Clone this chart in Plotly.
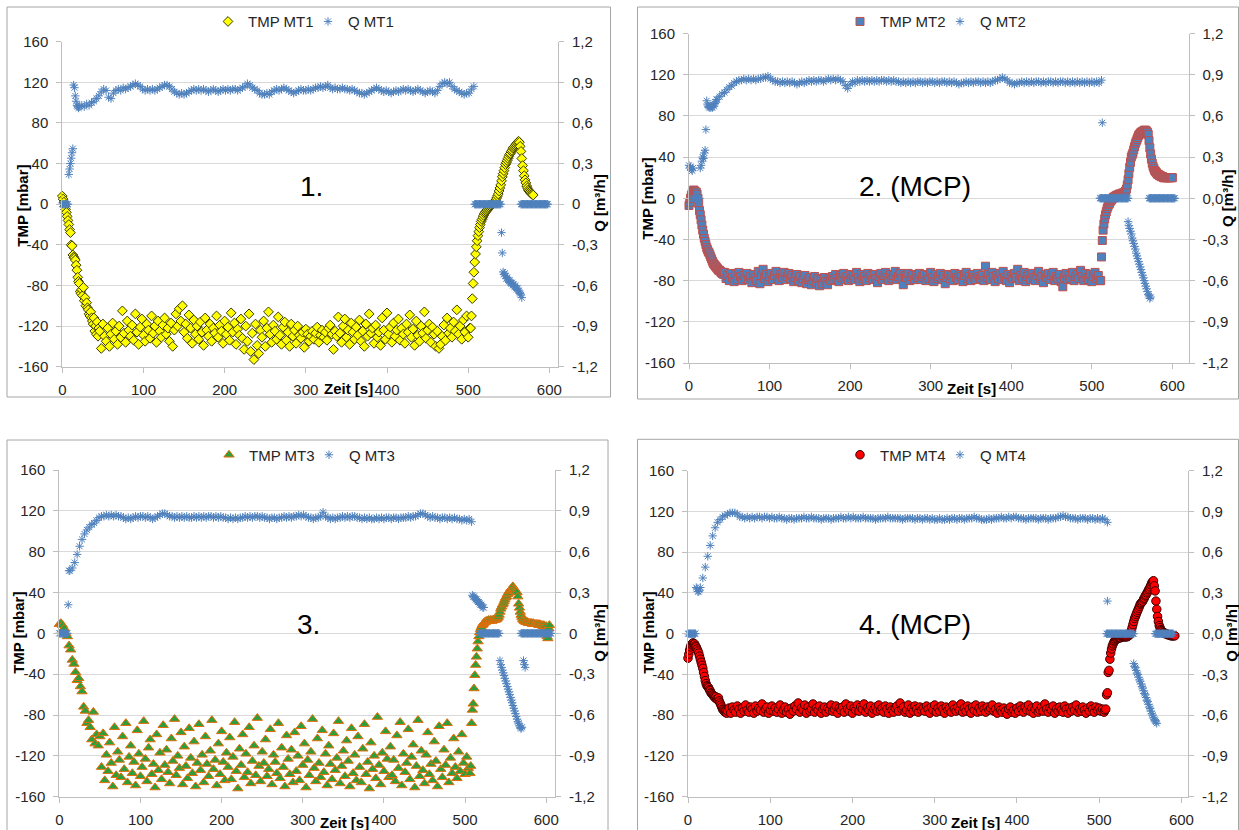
import plotly.graph_objects as go

# ---------------------------------------------------------------- DATA
# Each series is read off the picture as runs of samples: (start time [s], sampling step [s], values)

# ---- Panel 1 (MT1)
TMP1_START = [8, 5, 2, -2, -5, -8, -12, -16, -20, -25, -28, -40, -41, -50, -52, -53, -55, -60, -65, -72,
              -76, -78, -86, -88, -84, -90, -82, -95, -92, -100, -97, -102, -104, -108, -110, -106, -112,
              -115, -118, -112, -125, -120, -128, -116, -130, -122]
TMP1_MID = [
    -125, -142, -118, -130, -135, -122, -140, -128, -117, -133, -125, -138, -120, -131, -105, -127, -136, -115, -124, -130,
    -119, -134, -108, -126, -138, -121, -113, -129, -135, -118, -124, -132, -110, -127, -120, -136, -115, -125, -131, -119,
    -112, -128, -122, -135, -117, -140, -124, -108, -120, -103, -115, -100, -126, -118, -132, -109, -122, -137, -114, -128,
    -120, -133, -116, -126, -139, -112, -124, -130, -118, -135, -122, -127, -110, -131, -119, -125, -137, -115, -128, -121,
    -134, -107, -126, -117, -138, -123, -129, -113, -132, -143, -120, -135, -108, -145, -127, -153, -118, -139, -147, -124,
    -131, -115, -140, -122, -106, -128, -136, -119, -125, -133, -111, -129, -138, -121, -116, -134, -126, -140, -118, -130,
    -124, -137, -120, -129, -132, -126, -141, -123, -128, -135, -130, -125, -133, -127, -121, -136, -129, -124, -131, -126,
    -134, -122, -119, -128, -143, -125, -130, -111, -127, -136, -120, -113, -131, -124, -138, -117, -126, -133, -121, -129,
    -114, -135, -125, -140, -118, -130, -108, -127, -122, -137, -119, -131, -126, -139, -112, -124, -133, -107, -128, -121,
    -136, -117, -130, -124, -113, -134, -122, -128, -137, -118, -126, -109, -131, -123, -139, -115, -129, -135, -120, -127,
    -106, -132, -124, -118, -136, -121, -128, -140, -125, -142, -138, -130, -119, -134, -112, -127, -122, -131, -116, -125,
    -104, -128, -120, -133, -114, -126, -110, -131, -122]
TMP1_END = [-122, -110, -93, -78, -67, -57, -49, -42, -36, -31, -27, -23, -20, -17, -15, -13, -11, -9, -8, -7,
            -6, -5, -4, -3, -2, -1, 0, 1, 1, 2, 3, 4, 6, 8, 10, 13, 16, 19, 23, 27,
            30, 33, 36, 39, 41, 43, 45, 47, 49, 50, 52, 53, 55, 56, 57, 58, 59, 60, 61, 62,
            61, 57, 52, 45, 38, 33, 28, 24, 21, 18, 16, 14, 13, 12, 11, 10, 10, 9]
Q1_START = [0, 0, 0, 0, 0, 0, 0, 0, 0.22, 0.26, 0.30, 0.34, 0.38, 0.41, 0.88, 0.86, 0.80, 0.76, 0.73, 0.72, 0.71]
Q1_MID = [
    0.72, 0.73, 0.72, 0.74, 0.73, 0.75, 0.76, 0.78, 0.80, 0.83, 0.85, 0.84, 0.79, 0.78, 0.82, 0.84, 0.85, 0.84, 0.86, 0.85,
    0.86, 0.87, 0.88, 0.89, 0.88, 0.87, 0.85, 0.84, 0.85, 0.84, 0.85, 0.84, 0.85, 0.86, 0.87, 0.88, 0.88, 0.87, 0.85, 0.83,
    0.82, 0.81, 0.82, 0.81, 0.82, 0.83, 0.84, 0.85, 0.84, 0.85, 0.84, 0.85, 0.84, 0.83, 0.84, 0.85, 0.84, 0.83, 0.84, 0.85,
    0.84, 0.85, 0.84, 0.85, 0.85, 0.84, 0.85, 0.86, 0.87, 0.89, 0.88, 0.86, 0.85, 0.84, 0.82, 0.81, 0.81, 0.82, 0.81, 0.83,
    0.84, 0.85, 0.84, 0.85, 0.86, 0.85, 0.84, 0.83, 0.82, 0.83, 0.84, 0.85, 0.84, 0.84, 0.85, 0.84, 0.85, 0.86, 0.86, 0.87,
    0.86, 0.87, 0.88, 0.86, 0.85, 0.86, 0.85, 0.85, 0.86, 0.85, 0.85, 0.84, 0.85, 0.84, 0.83, 0.82, 0.82, 0.81, 0.82, 0.83,
    0.84, 0.85, 0.86, 0.85, 0.84, 0.83, 0.84, 0.83, 0.82, 0.83, 0.84, 0.83, 0.84, 0.85, 0.84, 0.85, 0.84, 0.83, 0.84, 0.85,
    0.84, 0.83, 0.82, 0.83, 0.84, 0.83, 0.82, 0.84, 0.87, 0.89, 0.90, 0.89, 0.90, 0.87, 0.85, 0.84, 0.83, 0.82, 0.81, 0.82,
    0.82, 0.85, 0.87]
Q1_FLUSH_A = [0, 0, 0, 0, 0, 0, 0, 0, 0, 0, 0, 0, 0, 0, 0, 0, 0, 0, 0, 0, 0, 0, 0, 0, 0, 0, 0, 0, 0, 0, 0, 0, 0]
Q1_BACK = [-0.21, -0.36, -0.50, -0.52, -0.51, -0.53, -0.55, -0.54, -0.56, -0.57, -0.56, -0.58, -0.59, -0.58, -0.60,
           -0.59, -0.61, -0.60, -0.62, -0.63, -0.62, -0.64, -0.65, -0.66, -0.67, -0.69]
Q1_FLUSH_B = [0, 0, 0, 0, 0, 0, 0, 0, 0, 0, 0, 0, 0, 0, 0, 0, 0, 0, 0, 0, 0, 0, 0, 0, 0, 0, 0, 0, 0, 0, 0, 0, 0, 0]

# ---- Panel 2 (MT2, MCP)
TMP2_START = [-7, -4, 0, 3, 5, 7, 8, 7, 6, 6, 4, 0, -5, -12, -16, -21, -26, -31, -35, -39, -42, -45, -48, -50,
              -52, -53, -55, -57, -59, -61, -63, -64, -65, -66, -67, -68, -69, -70, -70, -71, -72, -73, -72, -74]
TMP2_MID = [
    -72, -78, -75, -80, -73, -77, -81, -74, -79, -72, -76, -80, -75, -78, -73, -79, -76, -82, -74, -77,
    -80, -71, -83, -75, -69, -78, -74, -81, -76, -73, -79, -75, -71, -78, -80, -74, -77, -72, -79, -76,
    -73, -78, -75, -81, -77, -74, -80, -76, -82, -78, -75, -83, -79, -77, -84, -80, -76, -82, -78, -85,
    -79, -83, -77, -81, -84, -78, -80, -76, -79, -74, -78, -81, -75, -77, -73, -79, -76, -80, -74, -78,
    -75, -79, -72, -77, -81, -74, -78, -76, -80, -73, -77, -75, -79, -74, -78, -82, -76, -73, -79, -75,
    -72, -77, -80, -74, -78, -75, -71, -79, -76, -73, -78, -84, -75, -77, -73, -80, -76, -74, -79, -75,
    -77, -73, -79, -76, -74, -80, -75, -78, -72, -77, -81, -74, -78, -76, -73, -79, -75, -83, -77, -74,
    -78, -75, -80, -73, -77, -79, -74, -76, -81, -75, -72, -78, -76, -80, -74, -77, -79, -73, -76, -78,
    -75, -80, -66, -77, -74, -79, -72, -76, -81, -75, -78, -73, -79, -71, -77, -80, -74, -82, -76, -78,
    -73, -77, -69, -80, -75, -78, -72, -81, -76, -74, -79, -73, -77, -80, -75, -71, -78, -76, -82, -74,
    -77, -73, -79, -75, -72, -80, -76, -78, -74, -81, -86, -77, -73, -79, -75, -78, -72, -80, -76, -74,
    -78, -70, -76, -80, -73, -77, -79, -74, -81, -76, -72, -78, -75, -80]
TMP2_END = [-80, -57, -41, -31, -25, -20, -16, -13, -10, -8, -6, -5, -3, -2, -1, 0, 1, 1, 2, 2,
            3, 3, 3, 4, 4, 4, 4, 5, 5, 5, 6, 7, 9, 13, 18, 24, 30, 35, 40, 42,
            44, 47, 50, 53, 55, 57, 59, 61, 62, 63, 64, 64, 65, 65, 66, 66, 66, 65, 64, 62,
            56, 49, 43, 38, 34, 31, 29, 27, 26, 25, 24, 23, 23, 22, 22, 21, 21, 21, 20, 20,
            20, 20, 20, 20, 20, 20, 20, 20, 20, 20]
Q2_START = [0.24, 0.22, 0.23, 0.21, 0.20, 0.22, 0, 0, 0, 0, 0, 0, 0, 0, 0.22, 0.24, 0.27, 0.30, 0.29, 0.33, 0.35,
            0.50, 0.71, 0.68, 0.67, 0.66, 0.67, 0.66, 0.67, 0.66, 0.68, 0.67, 0.69, 0.70, 0.72]
Q2_MID = [
    0.72, 0.74, 0.76, 0.77, 0.79, 0.81, 0.82, 0.84, 0.85, 0.86, 0.86, 0.87, 0.86, 0.87, 0.86, 0.87, 0.86, 0.87, 0.87, 0.88,
    0.88, 0.89, 0.87, 0.86, 0.85, 0.85, 0.84, 0.85, 0.84, 0.85, 0.84, 0.85, 0.84, 0.83, 0.84, 0.85, 0.84, 0.85, 0.86, 0.85,
    0.86, 0.85, 0.86, 0.86, 0.85, 0.86, 0.87, 0.86, 0.87, 0.86, 0.87, 0.86, 0.85, 0.82, 0.80, 0.83, 0.85, 0.84, 0.86, 0.85,
    0.86, 0.85, 0.86, 0.85, 0.86, 0.85, 0.86, 0.85, 0.86, 0.86, 0.85, 0.86, 0.85, 0.86, 0.85, 0.85, 0.84, 0.85, 0.84, 0.85,
    0.84, 0.85, 0.84, 0.85, 0.85, 0.84, 0.85, 0.84, 0.85, 0.85, 0.84, 0.85, 0.84, 0.85, 0.85, 0.84, 0.85, 0.84, 0.85, 0.84,
    0.83, 0.84, 0.84, 0.85, 0.84, 0.85, 0.84, 0.85, 0.85, 0.84, 0.85, 0.84, 0.85, 0.84, 0.85, 0.86, 0.86, 0.87, 0.88, 0.87,
    0.86, 0.84, 0.84, 0.83, 0.84, 0.84, 0.85, 0.84, 0.85, 0.84, 0.85, 0.84, 0.85, 0.85, 0.84, 0.85, 0.84, 0.85, 0.85, 0.84,
    0.85, 0.84, 0.85, 0.85, 0.84, 0.85, 0.84, 0.85, 0.84, 0.85, 0.84, 0.85, 0.84, 0.85, 0.84, 0.85, 0.84, 0.85, 0.84, 0.86]
Q2_SPIKE = [0.55]
Q2_FLUSH_A = [0, 0, 0, 0, 0, 0, 0, 0, 0, 0, 0, 0, 0, 0, 0, 0, 0, 0, 0, 0, 0, 0, 0, 0, 0, 0, 0, 0, 0, 0, 0, 0, 0, 0, 0, 0]
Q2_BACK = [-0.17, -0.20, -0.22, -0.24, -0.26, -0.29, -0.31, -0.33, -0.35, -0.37, -0.40, -0.42, -0.44, -0.46, -0.48,
           -0.50, -0.52, -0.54, -0.56, -0.58, -0.60, -0.62, -0.64, -0.66, -0.68, -0.70, -0.71, -0.73, -0.72]
Q2_FLUSH_B = [0, 0, 0, 0, 0, 0, 0, 0, 0, 0, 0, 0, 0, 0, 0, 0, 0, 0, 0, 0, 0, 0, 0, 0, 0, 0, 0, 0, 0, 0, 0, 0, 0]

# ---- Panel 3 (MT3)
TMP3_START = [9, 10, 8, 5, 0, -3, -12, -16, -26, -30, -38, -46, -44, -52, -57, -72, -76, -88, -85, -92,
              -104, -77, -108, -99, -110, -101]
TMP3_MID = [
    -131, -98, -144, -119, -135, -107, -127, -150, -92, -139, -116, -124, -141, -101, -133, -88, -146, -121, -110, -137,
    -126, -149, -95, -118, -140, -131, -86, -123, -145, -112, -104, -138, -128, -151, -99, -134, -117, -143, -90, -129,
    -114, -136, -147, -103, -125, -84, -139, -120, -132, -97, -148, -111, -130, -142, -93, -122, -137, -106, -150, -127,
    -89, -134, -119, -146, -101, -128, -140, -115, -85, -133, -124, -149, -108, -138, -96, -126, -144, -117, -131, -102,
    -143, -121, -87, -135, -152, -113, -129, -99, -141, -118, -136, -92, -147, -125, -110, -139, -83, -130, -145, -116,
    -127, -104, -140, -133, -94, -148, -119, -126, -137, -88, -142, -112, -131, -150, -100, -123, -138, -114, -146, -97,
    -135, -120, -144, -91, -129, -108, -151, -124, -139, -116, -84, -132, -145, -103, -127, -141, -95, -136, -118, -149,
    -110, -128, -143, -98, -134, -122, -86, -147, -130, -115, -140, -105, -125, -150, -93, -137, -119, -144, -101, -131,
    -146, -113, -89, -138, -126, -152, -107, -133, -120, -142, -82, -129, -148, -117, -135, -96, -123, -141, -111, -139,
    -124, -145, -100, -132, -87, -149, -118, -136, -127, -94, -143, -121, -109, -151, -130, -85, -140, -115, -134, -147,
    -119, -97, -138, -128, -144, -106, -125, -150, -91, -133, -141, -114, -129, -88, -146, -122, -137, -103, -131, -142,
    -116, -135, -99, -127, -138, -121, -132, -137]
TMP3_END = [-130, -88, -75, -69, -54, -41, -31, -23, -15, -8, -3, 1, 4, 6, 8, 9, 10, 11, 11, 12,
            12, 12, 13, 12, 13, 13, 12, 13, 13, 14, 13, 14, 14, 15, 16, 18, 21, 24, 26, 28,
            29, 31, 33, 35, 36, 38, 39, 41, 42, 43, 44, 45, 46, 44, 43, 42, 41, 40, 36, 29,
            25, 21, 18, 16, 14, 13, 12, 12, 11, 11, 11, 10, 10, 10, 10, 10, 9, 10, 9, 9,
            9, 9, 9, 9, 8, 9, 8, 8, 8, 7, 8, 7, 6, 7, -3, -5, 5, 8]
Q3_START = [0, 0, 0, 0, 0, 0, 0, 0, 0, 0, 0, 0.21, 0.46]
Q3_MID = [
    0.46, 0.48, 0.52, 0.58, 0.64, 0.69, 0.73, 0.76, 0.78, 0.80, 0.81, 0.83, 0.85, 0.86, 0.86, 0.87, 0.86, 0.87, 0.86, 0.87,
    0.86, 0.86, 0.85, 0.84, 0.85, 0.84, 0.85, 0.86, 0.85, 0.86, 0.86, 0.85, 0.86, 0.85, 0.84, 0.85, 0.86, 0.87, 0.88, 0.88,
    0.87, 0.86, 0.86, 0.85, 0.86, 0.85, 0.86, 0.85, 0.86, 0.85, 0.85, 0.86, 0.85, 0.86, 0.85, 0.86, 0.85, 0.86, 0.86, 0.85,
    0.86, 0.85, 0.86, 0.85, 0.85, 0.84, 0.85, 0.84, 0.85, 0.84, 0.85, 0.85, 0.86, 0.85, 0.86, 0.85, 0.86, 0.86, 0.85, 0.86,
    0.85, 0.85, 0.84, 0.85, 0.85, 0.84, 0.85, 0.85, 0.86, 0.85, 0.86, 0.85, 0.86, 0.86, 0.87, 0.86, 0.87, 0.86, 0.85, 0.85,
    0.84, 0.85, 0.85, 0.86, 0.89, 0.86, 0.85, 0.84, 0.85, 0.84, 0.85, 0.85, 0.86, 0.85, 0.86, 0.85, 0.86, 0.86, 0.85, 0.85,
    0.84, 0.85, 0.84, 0.85, 0.84, 0.84, 0.85, 0.84, 0.85, 0.84, 0.85, 0.85, 0.84, 0.85, 0.85, 0.84, 0.85, 0.85, 0.85, 0.86,
    0.85, 0.86, 0.86, 0.87, 0.88, 0.88, 0.87, 0.86, 0.85, 0.86, 0.85, 0.85, 0.84, 0.85, 0.85, 0.84, 0.85, 0.84, 0.85, 0.84,
    0.84, 0.83, 0.84, 0.83, 0.84, 0.82]
Q3_DECAY = [0.28, 0.27, 0.27, 0.26, 0.25, 0.25, 0.24, 0.23, 0.23, 0.22, 0.21, 0.21, 0.20, 0.19, 0.19]
Q3_FLUSH_A = [0, 0, 0, 0, 0, 0, 0, 0, 0, 0, 0, 0, 0, 0, 0, 0, 0, 0, 0, 0, 0, 0, 0, 0, 0]
Q3_BACK = [-0.20, -0.23, -0.25, -0.27, -0.29, -0.31, -0.33, -0.35, -0.37, -0.39, -0.41, -0.43, -0.45, -0.47,
           -0.49, -0.51, -0.53, -0.55, -0.57, -0.59, -0.61, -0.63, -0.65, -0.66, -0.68, -0.69, -0.70, -0.69]
Q3_BACK2 = [-0.20, -0.23, -0.25]
Q3_FLUSH_B = [0, 0, 0, 0, 0, 0, 0, 0, 0, 0, 0, 0, 0, 0, 0, 0, 0, 0, 0, 0, 0, 0, 0, 0, 0, 0, 0, 0, 0, 0, 0, 0, 0, 0, 0, 0, 0, 0]

# ---- Panel 4 (MT4, MCP)
TMP4_START = [-24, -20, -16, -13, -11, -10, -9, -10, -10, -12, -13, -15, -17, -19, -22, -25, -28, -31, -34, -38,
              -42, -46, -49, -51, -52, -53, -55, -56, -58, -59, -60, -61, -62, -63, -62, -64, -65, -63, -66, -68,
              -70, -72, -74, -75, -76, -77, -76, -78]
TMP4_MID = [
    -76, -73, -78, -72, -75, -77, -71, -74, -78, -73, -76, -70, -75, -77, -72, -74, -78, -71, -76, -73,
    -75, -69, -77, -74, -72, -78, -75, -71, -76, -73, -77, -74, -70, -78, -75, -72, -77, -74, -79, -73,
    -76, -71, -74, -68, -77, -73, -75, -70, -78, -72, -76, -74, -69, -77, -73, -75, -71, -78, -74, -72,
    -77, -73, -75, -70, -76, -74, -71, -78, -73, -75, -72, -77, -69, -74, -76, -71, -78, -73, -75, -70,
    -76, -72, -74, -69, -77, -73, -75, -71, -78, -74, -72, -76, -70, -75, -73, -77, -71, -74, -78, -72,
    -75, -77, -73, -71, -76, -68, -74, -72, -77, -75, -70, -78, -73, -76, -71, -74, -77, -72, -75, -73,
    -76, -71, -74, -78, -72, -75, -70, -77, -73, -76, -71, -74, -78, -72, -75, -73, -77, -70, -74, -76,
    -72, -75, -69, -77, -73, -76, -71, -74, -78, -72, -75, -70, -77, -73, -76, -71, -74, -77, -72, -75,
    -73, -70, -76, -74, -78, -72, -75, -77, -73, -76, -79, -74, -72, -77, -75, -78, -73, -76, -71, -74,
    -77, -72, -75, -70, -76, -73, -78, -74, -71, -77, -75, -72, -76, -69, -74, -77, -73, -75, -71, -78,
    -74, -76, -72, -75, -77, -71, -74, -78, -73, -76, -72, -75, -70, -77, -74, -76, -72, -75, -78, -73,
    -76, -71, -74, -77, -72, -75, -73, -76, -74, -77]
TMP4_END = [-75, -74, -60, -58, -38, -36, -25, -19, -15, -12, -10, -8, -7, -6, -5, -5, -4, -4, -4, -4,
            -3, -3, -3, -3, -3, -3, -3, -3, -2, -2, -1, 0, 3, 6, 9, 12, 15, 17, 19, 21,
            23, 25, 27, 29, 30, 31, 32, 34, 35, 37, 38, 40, 41, 43, 44, 46, 48, 50, 51, 52,
            47, 42, 32, 24, 17, 12, 8, 6, 4, 3, 2, 1, 1, 0, 0, 0, -1, -1, -1, -1,
            -2, -2, -2, -2, -2, -2]
Q4_START = [0, 0, 0, 0, 0, 0, 0, 0, 0, 0, 0.34, 0.33, 0.31, 0.31, 0.32]
Q4_MID = [
    0.34, 0.41, 0.49, 0.57, 0.65, 0.72, 0.78, 0.82, 0.84, 0.86, 0.87, 0.88, 0.89, 0.89, 0.89, 0.88, 0.86, 0.86, 0.85, 0.86,
    0.85, 0.86, 0.85, 0.86, 0.86, 0.85, 0.86, 0.86, 0.85, 0.86, 0.85, 0.85, 0.86, 0.85, 0.85, 0.84, 0.85, 0.85, 0.84, 0.85,
    0.85, 0.85, 0.86, 0.85, 0.85, 0.86, 0.85, 0.85, 0.85, 0.84, 0.85, 0.85, 0.85, 0.84, 0.85, 0.85, 0.85, 0.86, 0.85, 0.85,
    0.86, 0.85, 0.86, 0.85, 0.85, 0.85, 0.86, 0.85, 0.85, 0.85, 0.85, 0.84, 0.85, 0.85, 0.85, 0.85, 0.86, 0.85, 0.85, 0.85,
    0.85, 0.85, 0.84, 0.85, 0.85, 0.85, 0.85, 0.84, 0.85, 0.85, 0.84, 0.85, 0.85, 0.84, 0.85, 0.84, 0.84, 0.85, 0.84, 0.84,
    0.85, 0.84, 0.85, 0.85, 0.84, 0.85, 0.85, 0.84, 0.85, 0.85, 0.85, 0.86, 0.85, 0.85, 0.84, 0.84, 0.84, 0.85, 0.84, 0.85,
    0.85, 0.85, 0.86, 0.85, 0.85, 0.86, 0.85, 0.86, 0.86, 0.85, 0.85, 0.85, 0.84, 0.85, 0.85, 0.85, 0.85, 0.84, 0.85, 0.85,
    0.85, 0.84, 0.85, 0.85, 0.85, 0.86, 0.86, 0.87, 0.86, 0.86, 0.85, 0.85, 0.85, 0.84, 0.85, 0.85, 0.85, 0.84, 0.85, 0.85,
    0.84, 0.85, 0.84, 0.85, 0.84, 0.82]
Q4_SPIKE = [0.24]
Q4_FLUSH_A = [0, 0, 0, 0, 0, 0, 0, 0, 0, 0, 0, 0, 0, 0, 0, 0, 0, 0, 0, 0, 0, 0, 0, 0, 0, 0, 0, 0, 0, 0, 0, 0, 0, 0]
Q4_BACK = [-0.22, -0.24, -0.25, -0.27, -0.29, -0.30, -0.32, -0.34, -0.35, -0.37, -0.39, -0.40, -0.42, -0.44, -0.45,
           -0.47, -0.49, -0.50, -0.52, -0.54, -0.55, -0.57, -0.59, -0.60, -0.62, -0.63, -0.64, -0.65, -0.66]
Q4_FLUSH_B = [0, 0, 0, 0, 0, 0, 0, 0, 0, 0, 0, 0, 0, 0, 0, 0, 0, 0, 0, 0, 0, 0, 0]

# runs: (start time, step, values)
TMP_RUNS = [
    [(0, 1, TMP1_START), (46, 2, TMP1_MID), (503, 1, TMP1_END)],
    [(0, 1, TMP2_START), (44, 2, TMP2_MID), (511, 1, TMP2_END)],
    [(0, 2, TMP3_START), (52, 2, TMP3_MID), (507, 1, TMP3_END)],
    [(0, 1, TMP4_START), (48, 2, TMP4_MID), (507, 1, TMP4_END)],
]
Q_RUNS = [
    [(0, 1, Q1_START), (21, 3, Q1_MID), (508, 1, Q1_FLUSH_A), (541, 1, Q1_BACK), (565, 1, Q1_FLUSH_B)],
    [(0, 1, Q2_START), (35, 3, Q2_MID), (513, 1, Q2_SPIKE), (510, 1, Q2_FLUSH_A), (545, 1, Q2_BACK), (571, 1, Q2_FLUSH_B)],
    [(0, 1, Q3_START), (13, 3, Q3_MID), (509, 1, Q3_DECAY), (518, 1, Q3_FLUSH_A), (543, 1, Q3_BACK),
     (572, 1, Q3_BACK2), (569, 1, Q3_FLUSH_B)],
    [(0, 1, Q4_START), (15, 3, Q4_MID), (510, 1, Q4_SPIKE), (509, 1, Q4_FLUSH_A), (542, 1, Q4_BACK), (568, 1, Q4_FLUSH_B)],
]
TMP_NAMES = ["TMP MT1", "TMP MT2", "TMP MT3", "TMP MT4"]
Q_NAMES = ["Q MT1", "Q MT2", "Q MT3", "Q MT4"]
PANEL_LABELS = ["1.", "2. (MCP)", "3.", "4. (MCP)"]
X_TICKS = [0, 100, 200, 300, 400, 500, 600]
TMP_TICKS = [-160, -120, -80, -40, 0, 40, 80, 120, 160]
Q_TICKS = [-1.2, -0.9, -0.6, -0.3, 0.0, 0.3, 0.6, 0.9, 1.2]
Q_TEXT_A = ["-1,2", "-0,9", "-0,6", "-0,3", "0", "0,3", "0,6", "0,9", "1,2"]
Q_TEXT_B = ["-1,2", "-0,9", "-0,6", "-0,3", "0,0", "0,3", "0,6", "0,9", "1,2"]

# ---------------------------------------------------------------- LAYOUT (pixels)
W, H = 1239, 830
FONT = "Liberation Sans, Arial, sans-serif"
TXT = "#262626"
AX = "#bfbfbf"

PANELS = [
    dict(x0=62.3, x1=558, y0=41.7, y1=366.7, xmax=610.6, box=(7, 7, 610.5, 397),
         leg=(308, 21.7), lab=(311, 187), ttl=(21.7, 206), qttl=(598.8, 203), zeit=(348, 389), qtext=Q_TEXT_A),
    dict(x0=689, x1=1188.5, y0=33.5, y1=363, xmax=620, box=(637.5, 7, 1238.5, 399),
         leg=(940, 21.7), lab=(915, 187), ttl=(647.7, 199), qttl=(1227, 198), zeit=(971, 389), qtext=Q_TEXT_B),
    dict(x0=59.3, x1=555, y0=470, y1=796.7, xmax=610.8, box=(7, 440, 608, 845),
         leg=(309, 455), lab=(308, 624), ttl=(17.8, 633), qttl=(598.8, 633), zeit=(344, 822), qtext=Q_TEXT_A),
    dict(x0=688, x1=1188, y0=470.7, y1=796.7, xmax=608, box=(637.5, 439.3, 1238.5, 845),
         leg=(940, 455), lab=(915, 624), ttl=(647.7, 633), qttl=(1230.7, 633), zeit=(975, 822), qtext=Q_TEXT_B),
]

TMP_STYLES = [
    dict(symbol="diamond", size=7.5, color="#ffff00", line=dict(color="#3a3a00", width=1)),
    dict(symbol="square", size=8, color="#4f81bd", line=dict(color="#c0504d", width=1)),
    dict(symbol="triangle-up", size=9, color="#2e9e3a", line=dict(color="#e46c0a", width=1)),
    dict(symbol="circle", size=8.5, color="#ff0000", line=dict(color="#3a0000", width=1)),
]
Q_STYLE = dict(symbol="asterisk-open", size=7, color="#4f81bd", line=dict(color="#4f81bd", width=1))


def fx(p):
    return p / W


def fy(p):
    return 1 - p / H


def expand(runs):
    xs, ys = [], []
    for t0, dt, vals in runs:
        for i, v in enumerate(vals):
            xs.append(t0 + dt * i)
            ys.append(v)
    return xs, ys


fig = go.Figure()
layout = dict(width=W, height=H, margin=dict(l=0, r=0, t=0, b=0, autoexpand=False), autosize=False,
              paper_bgcolor="white", plot_bgcolor="white", font=dict(family=FONT, color=TXT),
              showlegend=True, annotations=[], shapes=[])

for k, P in enumerate(PANELS):
    n = k + 1
    xname = "x" if n == 1 else f"x{n}"
    yl = "y" if n == 1 else f"y{2 * n - 1}"
    yr = f"y{2 * n}"
    leg = "legend" if n == 1 else f"legend{n}"

    tx, ty = expand(TMP_RUNS[k])
    qx, qy = expand(Q_RUNS[k])
    fig.add_trace(go.Scatter(x=tx, y=ty, mode="markers", name=TMP_NAMES[k], marker=TMP_STYLES[k],
                             xaxis=xname, yaxis=yl, legend=leg, cliponaxis=False))
    fig.add_trace(go.Scatter(x=qx, y=qy, mode="markers", name=Q_NAMES[k], marker=Q_STYLE,
                             xaxis=xname, yaxis=yr, legend=leg, cliponaxis=False))

    tick_font = dict(family=FONT, size=15, color=TXT)
    layout["xaxis" if n == 1 else f"xaxis{n}"] = dict(
        domain=[fx(P["x0"]), fx(P["x1"])], range=[0, P["xmax"]], anchor=yl,
        tickvals=X_TICKS, ticktext=[str(v) for v in X_TICKS], ticks="outside", ticklen=5, tickcolor=AX,
        showline=True, linecolor=AX, linewidth=1, showgrid=False, zeroline=False,
        tickfont=tick_font, ticklabelstandoff=4, fixedrange=True)
    layout["yaxis" if n == 1 else f"yaxis{2 * n - 1}"] = dict(
        domain=[fy(P["y1"]), fy(P["y0"])], range=[-160, 160], anchor=xname,
        tickvals=TMP_TICKS, ticktext=[str(v) for v in TMP_TICKS], ticks="outside", ticklen=5, tickcolor=AX,
        showline=True, linecolor=AX, linewidth=1, showgrid=True, gridcolor="#d9d9d9", gridwidth=1,
        zeroline=False, tickfont=tick_font, ticklabelstandoff=5, fixedrange=True)
    layout[f"yaxis{2 * n}"] = dict(
        overlaying=yl, side="right", anchor=xname, range=[-1.2, 1.2],
        tickvals=Q_TICKS, ticktext=P["qtext"], ticks="outside", ticklen=5, tickcolor=AX,
        showline=True, linecolor=AX, linewidth=1, showgrid=False, zeroline=False,
        tickfont=tick_font, ticklabelstandoff=5, fixedrange=True)

    layout[leg] = dict(x=fx(P["leg"][0]), y=fy(P["leg"][1]), xref="container", yref="container",
                       xanchor="center", yanchor="middle",
                       orientation="h", font=dict(family=FONT, size=15, color=TXT),
                       bgcolor="rgba(0,0,0,0)", itemwidth=30, entrywidth=55, entrywidthmode="pixels",
                       itemclick=False, itemdoubleclick=False)

    bx0, by0, bx1, by1 = P["box"]
    layout["shapes"].append(dict(type="rect", xref="paper", yref="paper", x0=fx(bx0), x1=fx(bx1),
                                 y0=fy(by1), y1=fy(by0), line=dict(color="#a6a6a6", width=1), layer="below"))

    layout["annotations"] += [
        dict(text=PANEL_LABELS[k], x=fx(P["lab"][0]), y=fy(P["lab"][1]), xref="paper", yref="paper",
             showarrow=False, xanchor="center", yanchor="middle", font=dict(family=FONT, size=28, color="#000")),
        dict(text="<b>TMP [mbar]</b>", x=fx(P["ttl"][0]), y=fy(P["ttl"][1]), xref="paper", yref="paper",
             showarrow=False, textangle=-90, xanchor="center", yanchor="middle",
             font=dict(family=FONT, size=15, color="#000")),
        dict(text="<b>Q [m³/h]</b>", x=fx(P["qttl"][0]), y=fy(P["qttl"][1]), xref="paper", yref="paper",
             showarrow=False, textangle=-90, xanchor="center", yanchor="middle",
             font=dict(family=FONT, size=15, color="#000")),
        dict(text="<b>Zeit [s]</b>", x=fx(P["zeit"][0]), y=fy(P["zeit"][1]), xref="paper", yref="paper",
             showarrow=False, xanchor="center", yanchor="middle", font=dict(family=FONT, size=15, color="#000")),
    ]

fig.update_layout(**layout)
fig.write_html("out.html", config={"displayModeBar": False},
               post_script="document.body.style.margin='0';document.body.style.overflow='hidden';")
